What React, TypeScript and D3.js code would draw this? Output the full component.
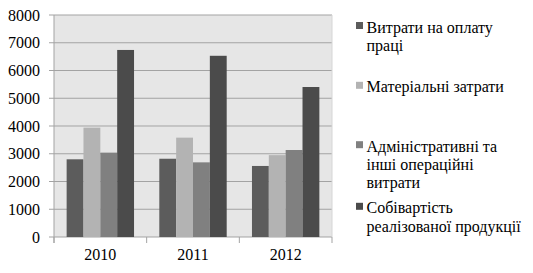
import React from "react";
import * as d3 from "d3";

const categories = ["2010", "2011", "2012"];
const seriesNames = [
  ["Витрати на оплату", "праці"],
  ["Матеріальні затрати"],
  ["Адміністративні та", "інші операційні", "витрати"],
  ["Собівартість", "реалізованої продукції"],
];
const labour = [2800, 2820, 2560];
const materials = [3940, 3580, 2950];
const admin = [3040, 2690, 3135];
const cost = [6740, 6530, 5405];
const yTicks = [0, 1000, 2000, 3000, 4000, 5000, 6000, 7000, 8000];

const series = [labour, materials, admin, cost];
const colors = ["#5c5c5c", "#b3b3b3", "#808080", "#4b4b4b"];

const W = 533;
const H = 273;
const plotL = 54;
const plotR = 332;
const plotT = 15;
const plotB = 237;
const axisStyle: React.CSSProperties = { fontFamily: `"Liberation Serif"`, fontSize: "16px" };
const legendStyle: React.CSSProperties = { fontFamily: `"Liberation Serif"`, fontSize: "16px" };

export default function App() {
  const x = d3.scaleBand<string>().domain(categories).range([plotL, plotR]).paddingInner(0).paddingOuter(0);
  const bw = x.bandwidth() / 5.5;
  const y = d3.scaleLinear().domain([0, 8000]).range([plotB, plotT]);

  const legendBase = [32.5, 92.3, 151.7, 213.3];
  const lineH = 18.3;

  return (
    <svg
      width={W}
      height={H}
      style={{ position: "absolute", left: 0, top: 0, background: "#fff", fontFamily: `"Liberation Serif"` }}
    >
      <rect x={plotL} y={plotT} width={plotR - plotL} height={plotB - plotT} fill="#e6e6e6" />
      {yTicks.map((t) => (
        <g key={t}>
          <line x1={plotL - 5} x2={plotR} y1={y(t)} y2={y(t)} stroke="#a3a3a3" strokeWidth={1} />
          <text x={40} y={y(t)} dy="0.35em" textAnchor="end" style={axisStyle} fill="#000">
            {t}
          </text>
        </g>
      ))}
      <line x1={plotL} x2={plotL} y1={plotT} y2={plotB + 6} stroke="#a3a3a3" />
      <line x1={plotR} x2={plotR} y1={plotT} y2={plotB} stroke="#d6d6d6" />
      {[0, 1, 2, 3].map((i) => {
        const xx = plotL + i * x.step();
        return <line key={i} x1={xx} x2={xx} y1={plotB} y2={plotB + 6} stroke="#a3a3a3" />;
      })}
      {categories.map((c, ci) => (
        <g key={c}>
          {series.map((s, si) => (
            <rect
              key={si}
              x={(x(c) as number) + 0.75 * bw + si * bw}
              y={y(s[ci])}
              width={bw}
              height={plotB - y(s[ci])}
              fill={colors[si]}
            />
          ))}
          <text
            x={(x(c) as number) + x.bandwidth() / 2}
            y={260}
            textAnchor="middle"
            style={axisStyle}
            fill="#000"
          >
            {c}
          </text>
        </g>
      ))}
      {seriesNames.map((lines, i) => (
        <g key={i}>
          <rect x={356} y={legendBase[i] - 10.5} width={7} height={7} fill={colors[i]} />
          {lines.map((ln, li) => (
            <text key={li} x={366.5} y={legendBase[i] + li * lineH} style={legendStyle} fill="#000">
              {ln}
            </text>
          ))}
        </g>
      ))}
    </svg>
  );
}
